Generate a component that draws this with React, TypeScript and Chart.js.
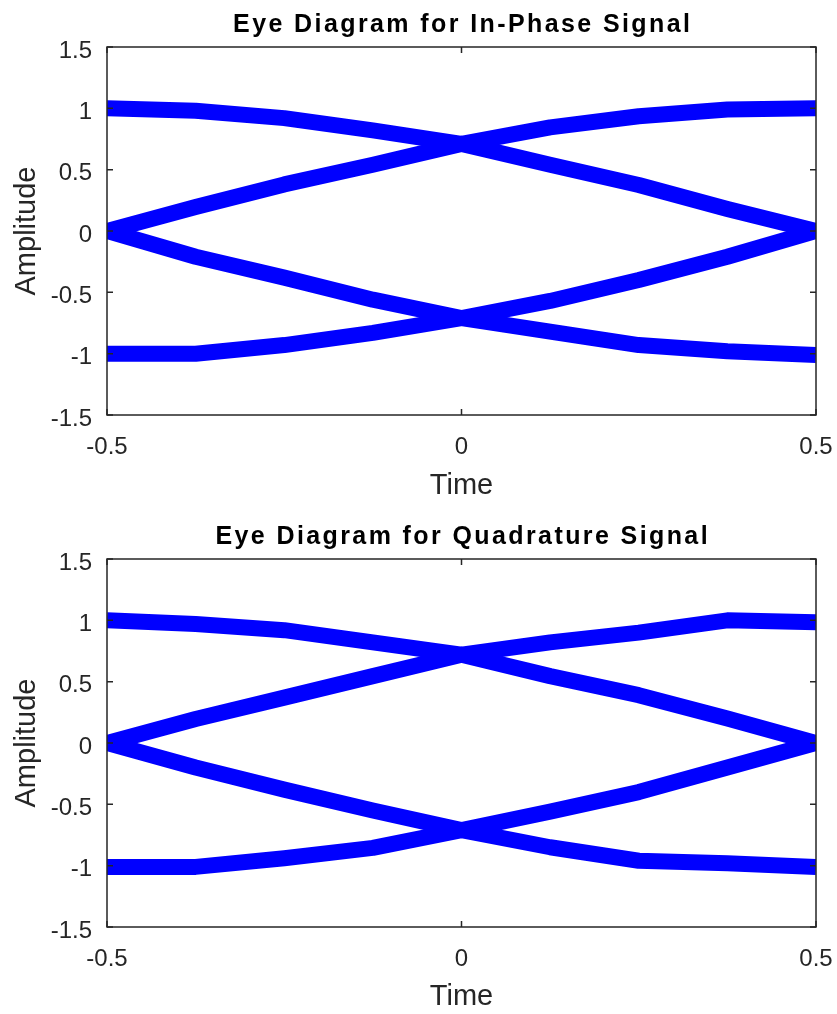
import React, { useEffect, useRef } from "react";
import { Chart, registerables } from "chart.js";

Chart.register(...registerables);

// ---------- data ----------
const timeSamples = [-0.5, -0.375, -0.25, -0.125, 0, 0.125, 0.25, 0.375, 0.5];
const xTickValues = [-0.5, 0, 0.5];
const yTickValues = [-1.5, -1, -0.5, 0, 0.5, 1, 1.5];

// In-phase eye traces (amplitude at each sample time)
const inPhaseUpperOuter = [1.0, 0.98, 0.92, 0.82, 0.71, 0.845, 0.935, 0.99, 1.0];
const inPhaseUpperInner = [0.0, 0.195, 0.38, 0.54, 0.71, 0.54, 0.375, 0.18, 0.0];
const inPhaseLowerInner = [0.0, -0.21, -0.38, -0.56, -0.71, -0.57, -0.4, -0.21, 0.0];
const inPhaseLowerOuter = [-1.0, -1.0, -0.93, -0.83, -0.71, -0.82, -0.93, -0.98, -1.01];

// Quadrature eye traces
const quadUpperOuter = [1.0, 0.97, 0.92, 0.82, 0.72, 0.82, 0.9, 1.0, 0.985];
const quadUpperInner = [0.0, 0.195, 0.37, 0.545, 0.72, 0.545, 0.39, 0.2, 0.0];
const quadLowerInner = [0.0, -0.2, -0.38, -0.55, -0.71, -0.56, -0.4, -0.2, 0.0];
const quadLowerOuter = [-1.01, -1.01, -0.94, -0.855, -0.71, -0.85, -0.96, -0.98, -1.01];

const inPhaseTitle = "Eye Diagram for In-Phase Signal";
const quadTitle = "Eye Diagram for Quadrature Signal";
const xLabel = "Time";
const yLabel = "Amplitude";

// ---------- styling ----------
const FONT = '"Liberation Sans", Arial, Helvetica, sans-serif';
const AXIS_COLOR = "#262626";
const LINE_COLOR = "#0000ff";
const PAGE_W = 837;
const CANVAS_W = 860; // wider than the page so the plot's right edge lands at 816
const PLOT_RIGHT = 816;

const framePlugin = {
  id: "matlabFrame",
  afterDraw(chart: any) {
    const { ctx, chartArea: a, scales } = chart;
    const title = chart.options.plugins.matlabFrame?.title ?? "";
    ctx.save();
    ctx.strokeStyle = AXIS_COLOR;
    ctx.lineWidth = 1.5;
    ctx.strokeRect(a.left, a.top, a.right - a.left, a.bottom - a.top);
    const tl = 6;
    ctx.beginPath();
    for (const v of yTickValues) {
      const py = scales.y.getPixelForValue(v);
      ctx.moveTo(a.left, py);
      ctx.lineTo(a.left + tl, py);
      ctx.moveTo(a.right, py);
      ctx.lineTo(a.right - tl, py);
    }
    for (const v of xTickValues) {
      const px = scales.x.getPixelForValue(v);
      ctx.moveTo(px, a.bottom);
      ctx.lineTo(px, a.bottom - tl);
      ctx.moveTo(px, a.top);
      ctx.lineTo(px, a.top + tl);
    }
    ctx.stroke();
    ctx.fillStyle = "#000000";
    ctx.font = `bold 25px ${FONT}`;
    ctx.textAlign = "center";
    ctx.textBaseline = "alphabetic";
    (ctx as any).letterSpacing = "2.4px";
    ctx.fillText(title, (a.left + a.right) / 2 + 1.2, a.top - 15);
    ctx.restore();
  },
};

type Props = {
  title: string;
  series: number[][];
  top: number;
  height: number;
  xTitlePad: number;
};

function EyePlot({ title, series, top, height, xTitlePad }: Props) {
  const ref = useRef<HTMLCanvasElement | null>(null);
  useEffect(() => {
    if (!ref.current) return;
    const datasets = series.map((vals) => ({
      data: vals.map((y, i) => ({ x: timeSamples[i], y })),
      borderColor: LINE_COLOR,
      backgroundColor: LINE_COLOR,
      borderWidth: 16,
      borderJoinStyle: "round" as const,
      borderCapStyle: "butt" as const,
      pointRadius: 0,
      tension: 0,
      fill: false,
      clip: 0,
    }));
    const chart = new Chart(ref.current, {
      type: "line",
      data: { datasets },
      plugins: [framePlugin],
      options: {
        responsive: false,
        maintainAspectRatio: false,
        devicePixelRatio: 1,
        animation: false,
        events: [],
        layout: { padding: { left: 0, right: CANVAS_W - PLOT_RIGHT, top: 47, bottom: 0 } },
        plugins: {
          legend: { display: false },
          title: { display: false },
          tooltip: { enabled: false },
          matlabFrame: { title },
        } as any,
        scales: {
          x: {
            type: "linear",
            min: -0.5,
            max: 0.5,
            afterBuildTicks: (s: any) => {
              s.ticks = xTickValues.map((v) => ({ value: v }));
            },
            afterFit: (s: any) => {
              s.height = height - 415;
            },
            grid: { display: false, drawTicks: false },
            border: { display: false },
            ticks: {
              color: AXIS_COLOR,
              font: { family: FONT, size: 24 },
              padding: 18,
              maxRotation: 0,
              autoSkip: false,
              callback: (v: any) => String(v),
            },
            title: {
              display: true,
              text: xLabel,
              color: AXIS_COLOR,
              font: { family: FONT, size: 29 },
              padding: { top: 0, bottom: xTitlePad },
            },
          },
          y: {
            type: "linear",
            min: -1.5,
            max: 1.5,
            afterBuildTicks: (s: any) => {
              s.ticks = yTickValues.map((v) => ({ value: v }));
            },
            afterFit: (s: any) => {
              s.width = 107;
            },
            grid: { display: false, drawTicks: false },
            border: { display: false },
            ticks: {
              color: AXIS_COLOR,
              font: { family: FONT, size: 24 },
              padding: 15,
              labelOffset: 4,
              autoSkip: false,
              callback: (v: any) => String(v),
            },
            title: {
              display: true,
              text: yLabel,
              color: AXIS_COLOR,
              font: { family: FONT, size: 29 },
              padding: { top: 10, bottom: 0 },
            },
          },
        },
      } as any,
    });
    return () => chart.destroy();
  }, [title, series, top, height, xTitlePad]);

  return (
    <canvas
      ref={ref}
      width={CANVAS_W}
      height={height}
      style={{ position: "absolute", left: 0, top, display: "block" }}
    />
  );
}

export default function App() {
  return (
    <div
      style={{
        position: "absolute",
        left: 0,
        top: 0,
        width: PAGE_W,
        height: 1014,
        background: "#ffffff",
        overflow: "hidden",
      }}
    >
      <EyePlot
        title={inPhaseTitle}
        series={[inPhaseUpperOuter, inPhaseUpperInner, inPhaseLowerInner, inPhaseLowerOuter]}
        top={0}
        height={507}
        xTitlePad={4}
      />
      <EyePlot
        title={quadTitle}
        series={[quadUpperOuter, quadUpperInner, quadLowerInner, quadLowerOuter]}
        top={512}
        height={502}
        xTitlePad={0}
      />
    </div>
  );
}
